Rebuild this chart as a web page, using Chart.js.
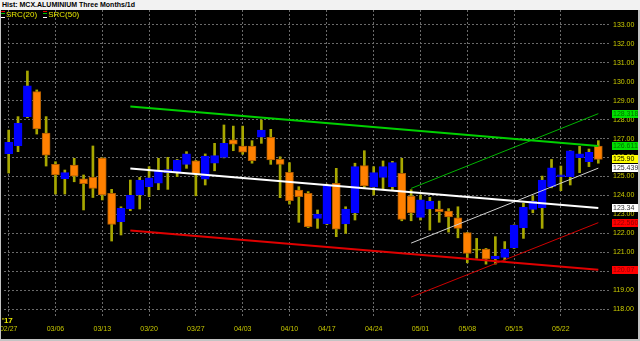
<!DOCTYPE html>
<html>
<head>
<meta charset="utf-8">
<script src="https://cdn.jsdelivr.net/npm/chart.js@4"></script>
<style>
  html, body { margin: 0; padding: 0; width: 640px; height: 341px; overflow: hidden; background: #c4c4c4; }
  #title { position: absolute; left: 0; top: 0; width: 638px; height: 10px; padding-left: 2px; background: #f2f2f2;
           font: bold 7px "Liberation Sans", Arial, sans-serif; line-height: 9px; color: #000; }
  #wrap { position: absolute; left: 1px; top: 10px; width: 637px; height: 329px; background: #000; }
  #legend { position: absolute; left: 1px; top: 11px; font: 8px "Liberation Sans", Arial, sans-serif; color: #e8e800; line-height: 8px; }
  #legend span.ic { display: inline-block; width: 4px; height: 5px; border-top: 1px solid #e00000; border-bottom: 1px solid #fff;
                    background: linear-gradient(#000 1px, #00c000 1px, #00c000 2px, #000 2px); vertical-align: -1px; margin-right: 1px; }
  #legend span.gap { display: inline-block; width: 6px; }
  #yr { position: absolute; left: 2px; top: 316px; font: bold 8px "Liberation Sans", Arial, sans-serif; color: #e8e800; }
</style>
</head>
<body>
<div id="title">Hist: MCX.ALUMINIUM Three Months/1d</div>
<div id="wrap"><canvas id="chart" width="637" height="329"></canvas></div>
<div id="legend"><span class="ic"></span>SRC(20)<span class="gap"></span><span class="ic"></span>SRC(50)</div>
<div id="yr">'17</div>
<script>
  // trading days, MCX aluminium, Feb 27 - May 26 2017 (Good Friday missing)
  const dates = [
    "02/27", "02/28", "03/01", "03/02", "03/03",
    "03/06", "03/07", "03/08", "03/09", "03/10",
    "03/13", "03/14", "03/15", "03/16", "03/17",
    "03/20", "03/21", "03/22", "03/23", "03/24",
    "03/27", "03/28", "03/29", "03/30", "03/31",
    "04/03", "04/04", "04/05", "04/06", "04/07",
    "04/10", "04/11", "04/12", "04/13",
    "04/17", "04/18", "04/19", "04/20", "04/21",
    "04/24", "04/25", "04/26", "04/27", "04/28",
    "05/01", "05/02", "05/03", "05/04", "05/05",
    "05/08", "05/09", "05/10", "05/11", "05/12",
    "05/15", "05/16", "05/17", "05/18", "05/19",
    "05/22", "05/23", "05/24", "05/25", "05/26"
  ];
  const weekStarts = [0, 5, 10, 15, 20, 25, 30, 34, 39, 44, 49, 54, 59];

  const opens = [
    126.20, 126.62, 128.16, 129.48, 127.29,
    125.64, 124.88, 125.60, 124.87, 124.95,
    125.97, 124.11, 122.61, 123.28, 124.02,
    124.46, 124.64, 125.20, 125.25, 125.64,
    125.82, 124.86, 125.70, 126.01, 126.93,
    126.61, 126.61, 127.07, 127.07, 125.90,
    125.22, 124.28, 124.11, 122.79,
    122.49, 124.64, 122.49, 123.08, 125.57,
    124.43, 124.95, 124.46, 125.16, 123.97,
    122.84, 123.28, 123.28, 123.17, 122.82,
    122.03, 121.11, 121.17, 120.64, 120.73,
    121.24, 122.29, 123.26, 123.35, 124.46,
    124.99, 124.99, 125.99, 125.78, 126.61
  ];
  const highs = [
    127.45, 128.16, 130.57, 129.57, 128.16,
    125.78, 125.34, 125.96, 125.08, 126.61,
    125.99, 124.32, 123.40, 124.81, 124.95,
    125.52, 125.96, 126.01, 125.90, 126.31,
    125.85, 126.19, 126.75, 127.72, 127.66,
    127.66, 126.89, 127.98, 127.49, 126.04,
    125.73, 124.46, 124.20, 123.23,
    124.60, 125.43, 123.40, 125.70, 126.36,
    125.52, 125.82, 125.80, 125.96, 124.30,
    124.02, 123.90, 123.70, 123.30, 123.40,
    122.05, 121.73, 121.20, 121.82, 121.56,
    122.45, 123.58, 123.97, 125.02, 125.90,
    125.55, 126.36, 126.59, 126.45, 126.89
  ];
  const lows = [
    125.18, 126.31, 128.10, 127.24, 125.55,
    124.07, 124.07, 124.72, 123.23, 123.89,
    123.76, 121.59, 121.91, 123.19, 123.28,
    123.93, 124.30, 124.32, 124.99, 125.43,
    123.98, 124.55, 125.30, 125.98, 126.36,
    126.17, 125.70, 126.75, 125.64, 123.88,
    123.54, 122.58, 122.30, 122.26,
    122.45, 121.82, 121.99, 122.70, 124.37,
    124.02, 124.32, 124.30, 122.66, 122.66,
    122.70, 122.17, 122.58, 122.06, 121.76,
    120.44, 120.68, 120.37, 120.37, 120.59,
    121.20, 121.73, 123.08, 122.26, 124.40,
    124.25, 124.55, 125.20, 125.52, 125.70
  ];
  const closes = [
    126.80, 127.81, 129.79, 127.51, 126.13,
    125.08, 125.20, 125.02, 124.62, 124.37,
    124.02, 122.47, 123.32, 124.00, 124.81,
    124.93, 125.34, 125.37, 125.87, 126.19,
    125.13, 126.08, 126.10, 126.75, 126.70,
    126.28, 125.83, 127.45, 125.87, 125.64,
    123.72, 123.93, 122.35, 123.02,
    124.55, 122.21, 123.28, 125.52, 124.50,
    125.20, 125.52, 125.73, 122.73, 123.08,
    123.76, 123.69, 123.14, 122.87, 122.26,
    120.94, 121.11, 120.64, 120.80, 121.17,
    122.43, 123.37, 123.70, 124.81, 125.46,
    125.08, 126.36, 126.19, 126.27, 125.90
  ];

  // channel lines: start / end candle and prices
  const downFrom = 13, upFrom = 43, lineTo = 63;
  const downGreen = [128.70, 126.611];
  const downWhite = [125.42, 123.34];
  const downRed = [122.15, 120.07];
  const upGreen = [124.37, 128.318];
  const upWhite = [121.48, 125.439];
  const upRed = [118.63, 122.560];

  // price tags at the right edge
  const tagValues = [128.318, 126.611, 125.90, 125.439, 123.34, 122.560, 120.07];
  const tagTexts = ["128.318", "126.611", "125.90", "125.439", "123.34", "122.560", "120.07"];
  const tagKinds = ["green", "green", "yellow", "white", "white", "red", "red"];

  const tagStyle = {
    green: { bg: "#00e000", fg: "#007000" },
    yellow: { bg: "#ffff00", fg: "#000000" },
    white: { bg: "#ffffff", fg: "#303030" },
    red: { bg: "#ff0000", fg: "#900000" }
  };

  const UP = "#0000ff", DOWN = "#ff8000", WICK = "#a8a800";
  const bodyColor = opens.map((o, i) => closes[i] > o ? UP : closes[i] < o ? DOWN : WICK);
  const bodyBorder = opens.map((o, i) => closes[i] > o ? UP : closes[i] < o ? "#b05c00" : WICK);

  function trend(from, pair) {
    const d = dates.map(() => null);
    d[from] = pair[0];
    d[lineTo] = pair[1];
    return d;
  }

  function lineSet(data, color, width) {
    return {
      type: "line",
      data,
      borderColor: color,
      borderWidth: width,
      pointRadius: 0,
      spanGaps: true,
      tension: 0,
      fill: false,
      order: 0
    };
  }

  const tagsPlugin = {
    id: "tags",
    afterDraw(chart) {
      const c = chart.ctx;
      const y = chart.scales.y;
      c.save();
      c.font = "7px 'Liberation Sans', Arial, sans-serif";
      c.textBaseline = "middle";
      c.textAlign = "left";
      tagValues.forEach((v, i) => {
        const py = Math.round(y.getPixelForValue(v));
        const st = tagStyle[tagKinds[i]];
        c.fillStyle = st.bg;
        c.fillRect(611, py - 4, 26, 8);
        c.fillStyle = st.fg;
        c.fillText(tagTexts[i], 612, py + 0.5);
      });
      c.restore();
    }
  };

  const GRID = "#6a6a6a";
  const tickFont = { family: "'Liberation Sans', Arial, sans-serif", size: 7 };

  new Chart(document.getElementById("chart"), {
    type: "bar",
    data: {
      labels: dates,
      datasets: [
        lineSet(trend(downFrom, downGreen), "#00d000", 2),
        lineSet(trend(downFrom, downWhite), "#ffffff", 2),
        lineSet(trend(downFrom, downRed), "#e00000", 2),
        lineSet(trend(upFrom, upGreen), "#00b400", 1),
        lineSet(trend(upFrom, upWhite), "#d0d0d0", 1),
        lineSet(trend(upFrom, upRed), "#d00000", 1),
        {
          label: "body",
          data: opens.map((o, i) => [o, closes[i]]),
          backgroundColor: bodyColor,
          borderColor: bodyBorder,
          borderWidth: 1,
          borderSkipped: false,
          barThickness: 8,
          minBarLength: 1,
          grouped: false,
          order: 1
        },
        {
          label: "wick",
          data: lows.map((l, i) => [l, highs[i]]),
          backgroundColor: WICK,
          barThickness: 2,
          grouped: false,
          order: 2
        }
      ]
    },
    options: {
      responsive: false,
      animation: false,
      events: [],
      layout: { padding: { left: 3, right: 0, top: 0, bottom: 0 } },
      plugins: {
        legend: { display: false },
        tooltip: { enabled: false }
      },
      scales: {
        x: {
          offset: true,
          grid: {
            offset: false,
            drawTicks: false,
            color: (c) => weekStarts.includes(c.index) ? GRID : "rgba(0,0,0,0)",
            borderDash: [2, 2]
          },
          border: { display: false, dash: [2, 2] },
          ticks: {
            autoSkip: false,
            maxRotation: 0,
            minRotation: 0,
            padding: 7,
            color: "#c8c800",
            font: tickFont,
            callback: (v, i) => weekStarts.includes(i) ? dates[i] : ""
          },
          afterFit: (s) => { s.height = 21; s.paddingLeft = 0; s.paddingRight = 0; }
        },
        y: {
          position: "right",
          min: 117.525,
          max: 133.792,
          grid: {
            color: GRID,
            tickColor: GRID,
            tickLength: 8,
            tickBorderDash: [2, 2],
            borderDash: [2, 2]
          },
          border: { display: false, dash: [2, 2] },
          ticks: {
            stepSize: 1,
            includeBounds: false,
            padding: 2,
            color: "#cccc00",
            font: tickFont,
            callback: (v) => v.toFixed(2)
          },
          afterFit: (s) => { s.width = 35; s.paddingTop = 0; s.paddingBottom = 0; }
        }
      }
    },
    plugins: [tagsPlugin]
  });
</script>
</body>
</html>
